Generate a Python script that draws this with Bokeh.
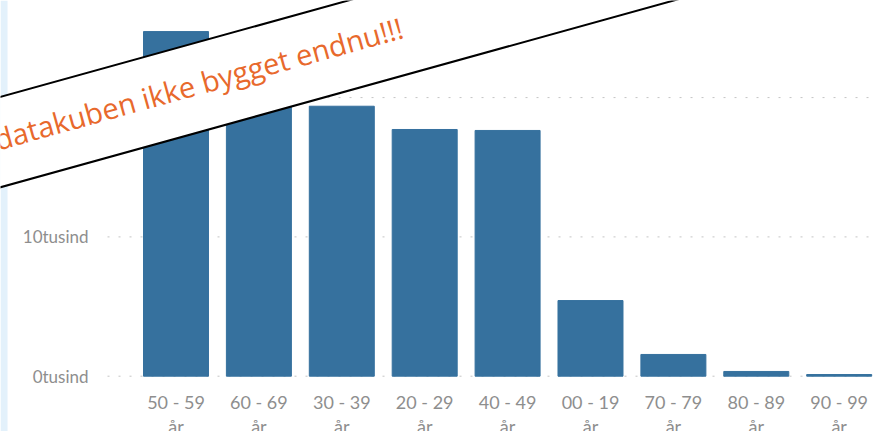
from bokeh.plotting import figure
from bokeh.models import Range1d, FixedTicker, Label, ColumnDataSource, BoxAnnotation
from bokeh.embed import file_html
from bokeh.resources import INLINE

# --- data ---
age_groups = ["50 - 59 år", "60 - 69 år", "30 - 39 år", "20 - 29 år", "40 - 49 år",
              "00 - 19 år", "70 - 79 år", "80 - 89 år", "90 - 99 år"]
persons = [24740, 21900, 19380, 17710, 17640, 5430, 1560, 340, 120]
y_ticks = [0, 10000, 20000]
y_tick_labels = ["0tusind", "10tusind", "20tusind"]
banner_text = "datakuben ikke bygget endnu!!!"

positions = list(range(len(age_groups)))
source = ColumnDataSource(data=dict(x=positions, top=persons, name=age_groups))

X_START, X_END = -2.117, 8.426
AXIS_X = -0.826
Y_START, Y_END = -3970, 26970

p = figure(width=874, height=431, output_backend="svg", toolbar_location=None,
           x_range=Range1d(X_START, X_END), y_range=Range1d(Y_START, Y_END),
           min_border_left=0, min_border_right=0, min_border_top=0, min_border_bottom=0)
p.outline_line_color = None
p.background_fill_color = "white"
p.border_fill_color = "white"
p.xgrid.visible = False
p.ygrid.visible = False

# light blue strip at the left edge
p.add_layout(BoxAnnotation(left=X_START, right=X_START + 0.085, fill_color="#e3f1fb",
                           fill_alpha=1, line_color=None, level="underlay"))

# dotted horizontal grid lines starting at the y axis
p.segment(x0=[AXIS_X] * len(y_ticks), y0=y_ticks, x1=[X_END] * len(y_ticks), y1=y_ticks,
          line_color="#c4c4c4", line_dash="2 9", line_width=1, level="underlay")

p.vbar(x="x", top="top", width=0.784, source=source,
       fill_color="#36719e", line_color="#36719e")

# y axis
p.yaxis.fixed_location = AXIS_X
p.yaxis.ticker = FixedTicker(ticks=y_ticks)
p.yaxis.major_label_overrides = {t: l for t, l in zip(y_ticks, y_tick_labels)}
p.yaxis.axis_line_color = None
p.yaxis.major_tick_line_color = None
p.yaxis.minor_tick_line_color = None
p.yaxis.major_label_standoff = 13
p.yaxis.major_label_text_font = "Lato"
p.yaxis.major_label_text_font_size = "17px"
p.yaxis.major_label_text_color = "#8e8e8e"

# x axis
p.xaxis.fixed_location = 0
p.xaxis.ticker = FixedTicker(ticks=positions)
p.xaxis.major_label_overrides = {i: g.replace(" år", "\når") for i, g in zip(positions, age_groups)}
p.xaxis.axis_line_color = None
p.xaxis.major_tick_line_color = None
p.xaxis.minor_tick_line_color = None
p.xaxis.major_label_standoff = 9
p.xaxis.major_label_text_font = "Lato"
p.xaxis.major_label_text_font_size = "18px"
p.xaxis.major_label_text_line_height = 1.1
p.xaxis.major_label_text_color = "#8e8e8e"

# banner band (box only, white text on white) and its text
band = Label(x=0.296, y=20790, text=".", angle=15.5, angle_units="deg",
             text_align="center", text_baseline="middle",
             text_font_size="2px", text_color="white",
             background_fill_color="white", border_line_color="black",
             border_line_width=2, padding=dict(left=900, right=900, top=43, bottom=43))
p.add_layout(band)
banner = Label(x=0.271, y=21040, text=banner_text, angle=15.5, angle_units="deg",
               text_align="center", text_baseline="alphabetic",
               text_font="Open Sans", text_font_size="29px", text_color="#e8692c")
p.add_layout(banner)

open("out.html", "w").write(file_html(p, INLINE))
